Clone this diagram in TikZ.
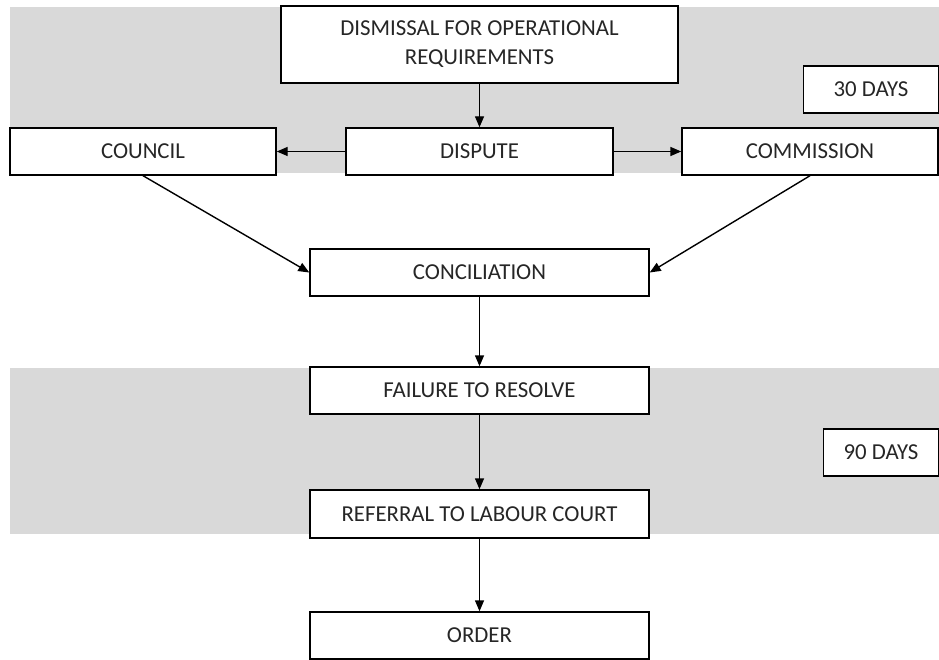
\documentclass[tikz,border=0pt]{standalone}
\usepackage{fontspec}
\setmainfont{Carlito}
\usetikzlibrary{arrows.meta}
\definecolor{band}{HTML}{D9D9D9}

\begin{document}
\begin{tikzpicture}[x=1pt,y=-1pt,line width=1.4pt,
  nodes = {draw,align=center,fill=white,inner sep=0pt,minimum height=47pt,
           text=black!85,font=\fontsize{22.8}{29}\selectfont},
  >={Triangle[length=11pt,width=9pt]}]

\useasboundingbox (0,0) rectangle (939,660);

% the two shaded periods
\fill[band] (10,7) rectangle (939,173);
\fill[band] (10,368) rectangle (939,534);

\node[minimum width=397pt,minimum height=77pt] (dismissal) at (479.5,44.5) {DISMISSAL FOR OPERATIONAL\\REQUIREMENTS};
\node[minimum width=135pt] (days30) at (871,89.5) {30 DAYS};

\node[minimum width=266pt] (council) at (143,151.5) {COUNCIL};
\node[minimum width=267pt] (dispute) at (479.5,151.5) {DISPUTE};
\node[minimum width=256pt] (commission) at (810,151.5) {COMMISSION};

\node[minimum width=339pt] (conciliation) at (479.5,272.5) {CONCILIATION};
\node[minimum width=339pt] (failure) at (479.5,390.5) {FAILURE TO RESOLVE};
\node[minimum width=115pt] (days90) at (881,452.5) {90 DAYS};
\node[minimum width=339pt,minimum height=48pt] (referral) at (479.5,514) {REFERRAL TO LABOUR COURT};
\node[minimum width=339pt] (order) at (479.5,635.5) {ORDER};

\draw[->,draw=black] (dismissal) to (dispute);
\draw[->,draw=black] (dispute) to (council);
\draw[->,draw=black] (dispute) to (commission);

\draw[->,draw=black] (council.south) to (conciliation.west);
\draw[->,draw=black] (commission.south) to (conciliation.east);

\draw[->,draw=black] (conciliation) to (failure);
\draw[->,draw=black] (failure) to (referral);
\draw[->,draw=black] (referral) to (order);
\end{tikzpicture}
\end{document}
